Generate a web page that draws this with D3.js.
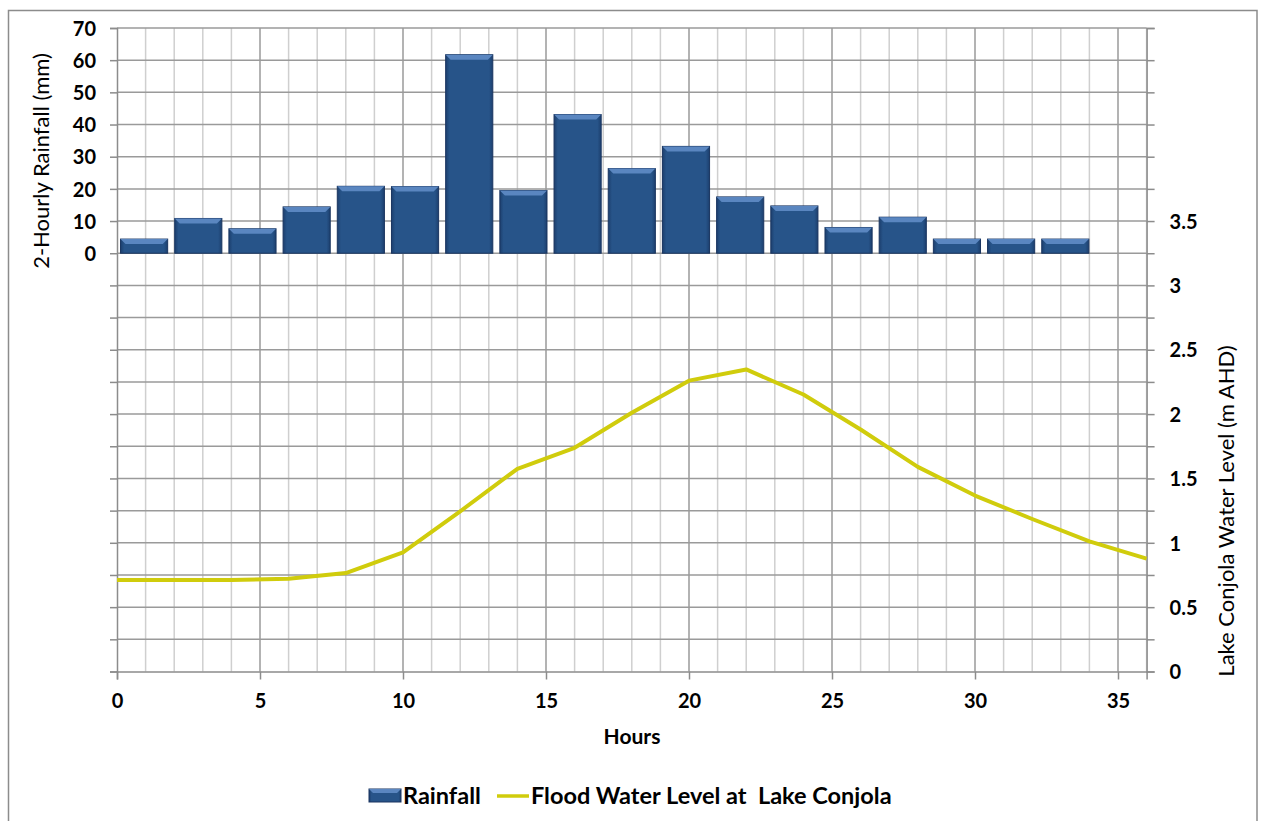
<!DOCTYPE html>
<html lang="en">
<head>
  <meta charset="utf-8">
  <title>Rainfall and Flood Water Level</title>
  <script src="https://cdn.jsdelivr.net/npm/d3@7"></script>
  <style>
    body { margin: 0; background: #fff; }
    svg text { font-family: Lato, "Open Sans", "Liberation Sans", sans-serif; fill: #000; }
    .tick-label { font-size: 20px; font-weight: bold; }
  </style>
</head>
<body>
  <script>
    // 2-hourly rainfall periods (19 slots across 0-36 h, last slot empty)
    const periods = ["0-2", "2-4", "4-6", "6-8", "8-10", "10-12", "12-14", "14-16", "16-18",
      "18-20", "20-22", "22-24", "24-26", "26-28", "28-30", "30-32", "32-34", "34-36", "36-38"];
    const rainfall = [4.4, 10.8, 7.6, 14.4, 20.8, 20.7, 61.7, 19.5, 43.1, 26.3, 33.2,
      17.5, 14.7, 8.0, 11.2, 4.4, 4.4, 4.4];

    const hours = [0, 2, 4, 6, 8, 10, 12, 14, 16, 18, 20, 22, 24, 26, 28, 30, 32, 34, 36];
    const waterLevel = [0.71, 0.71, 0.71, 0.72, 0.765, 0.925, 1.245, 1.575, 1.738, 2.01, 2.26,
      2.347, 2.152, 1.88, 1.59, 1.367, 1.185, 1.011, 0.877];

    const rainTicks = [0, 10, 20, 30, 40, 50, 60, 70];
    const levelTicks = [0, 0.5, 1, 1.5, 2, 2.5, 3, 3.5];
    const hourTicks = [0, 5, 10, 15, 20, 25, 30, 35];

    const w = 1264, h = 821;
    const plot = {left: 117, right: 1146.6, top: 28, bottom: 671.5};

    const svg = d3.select("body").append("svg")
      .attr("width", w)
      .attr("height", h);

    // chart frame
    svg.append("rect")
      .attr("x", 8.5).attr("y", 10.5)
      .attr("width", 1248.5).attr("height", 830)
      .attr("fill", "none")
      .attr("stroke", "#8c8c8c")
      .attr("stroke-width", 1.5);

    const x = d3.scaleLinear().domain([0, 36]).range([plot.left, plot.right]);
    const xBand = d3.scaleBand().domain(periods).range([plot.left, plot.right]).paddingInner(0.13).paddingOuter(0.065);
    const yRain = d3.scaleLinear().domain([-130, 70]).range([plot.bottom, plot.top]);
    const yLevel = d3.scaleLinear().domain([0, 5]).range([plot.bottom, plot.top]);

    // vertical gridlines, every hour (darker every 5)
    const grid = svg.append("g");
    grid.selectAll(".vgrid")
      .data(d3.range(1, 37))
      .enter()
      .append("line")
      .attr("x1", d => x(d)).attr("x2", d => x(d))
      .attr("y1", plot.top).attr("y2", plot.bottom)
      .attr("stroke", d => d % 5 === 0 ? "#9a9a9a" : "#cfcfcf")
      .attr("stroke-width", 1.5);

    // horizontal gridlines at every 0.25 m of the level axis
    grid.selectAll(".hgrid")
      .data(d3.range(1, 21).map(d => d * 0.25))
      .enter()
      .append("line")
      .attr("x1", plot.left).attr("x2", plot.right)
      .attr("y1", d => yLevel(d)).attr("y2", d => yLevel(d))
      .attr("stroke", "#9a9a9a")
      .attr("stroke-width", 1.5);

    // left axis: ticks on every gridline, labels 0..70
    const yAxisL = d3.axisLeft(yRain)
      .tickValues(d3.range(-130, 71, 10))
      .tickSize(7)
      .tickFormat(d => rainTicks.includes(d) ? d : "");
    const gL = svg.append("g")
      .attr("transform", "translate(" + plot.left + ",0)")
      .call(yAxisL);
    gL.selectAll("text").attr("class", "tick-label").attr("x", -21).attr("dy", "0.36em");

    // right axis: ticks on every gridline, labels 0..3.5
    const yAxisR = d3.axisRight(yLevel)
      .tickValues(d3.range(0, 21).map(d => d * 0.25))
      .tickSize(8)
      .tickFormat(d => levelTicks.includes(d) ? d : "");
    const gR = svg.append("g")
      .attr("transform", "translate(" + plot.right + ",0)")
      .call(yAxisR);
    gR.selectAll("text").attr("class", "tick-label").attr("x", 23).attr("dy", "0.36em");

    // bottom axis
    const xAxis = d3.axisBottom(x).tickValues(hourTicks).tickSize(8);
    const gB = svg.append("g")
      .attr("transform", "translate(0," + plot.bottom + ")")
      .call(xAxis);
    gB.selectAll("text").attr("class", "tick-label").attr("y", 22);

    [gL, gR, gB].forEach(g => {
      g.select(".domain").attr("stroke", "#8c8c8c").attr("stroke-width", 1.5);
      g.selectAll(".tick line").attr("stroke", "#8c8c8c").attr("stroke-width", 1.5);
    });

    // bevel gradient for the bars
    const defs = svg.append("defs");
    const grad = defs.append("linearGradient").attr("id", "barGrad")
      .attr("x1", "0").attr("x2", "1").attr("y1", "0").attr("y2", "0");
    grad.append("stop").attr("offset", "0%").attr("stop-color", "#1c3f6e");
    grad.append("stop").attr("offset", "8%").attr("stop-color", "#275489");
    grad.append("stop").attr("offset", "92%").attr("stop-color", "#275489");
    grad.append("stop").attr("offset", "100%").attr("stop-color", "#1c3f6e");

    const bars = svg.append("g");
    bars.selectAll(".bar")
      .data(rainfall)
      .enter()
      .append("rect")
      .attr("x", (d, i) => xBand(periods[i]))
      .attr("y", d => yRain(d))
      .attr("width", xBand.bandwidth())
      .attr("height", d => yRain(0) - yRain(d))
      .attr("fill", "url(#barGrad)")
      .attr("stroke", "#1a3560")
      .attr("stroke-width", 1);

    bars.selectAll(".bevel")
      .data(rainfall)
      .enter()
      .append("path")
      .attr("d", (d, i) => {
        const x0 = xBand(periods[i]), x1 = x0 + xBand.bandwidth(), y0 = yRain(d);
        return "M" + x0 + "," + y0 + "L" + x1 + "," + y0 + "L" + (x1 - 5) + "," + (y0 + 5) +
          "L" + (x0 + 5) + "," + (y0 + 5) + "Z";
      })
      .attr("fill", "#5a86c0");

    // water level line
    const line = d3.line()
      .x((d, i) => x(hours[i]))
      .y(d => yLevel(d));

    svg.append("path")
      .datum(waterLevel)
      .attr("d", line)
      .attr("fill", "none")
      .attr("stroke", "#d0cc0c")
      .attr("stroke-width", 4)
      .attr("stroke-linejoin", "round");

    // axis titles
    svg.append("text")
      .attr("transform", "translate(49,161) rotate(-90)")
      .attr("text-anchor", "middle")
      .style("font-size", "22px")
      .text("2-Hourly Rainfall (mm)");

    svg.append("text")
      .attr("transform", "translate(1234,511) rotate(-90)")
      .attr("text-anchor", "middle")
      .style("font-size", "22px")
      .text("Lake Conjola Water Level (m AHD)");

    svg.append("text")
      .attr("x", 632).attr("y", 744)
      .attr("text-anchor", "middle")
      .style("font-size", "21px")
      .style("font-weight", "bold")
      .text("Hours");

    // legend
    const legend = svg.append("g");
    legend.append("rect")
      .attr("x", 369).attr("y", 789)
      .attr("width", 32).attr("height", 13)
      .attr("fill", "url(#barGrad)")
      .attr("stroke", "#1a3560");
    legend.append("path")
      .attr("d", "M369,789L401,789L397,793L373,793Z")
      .attr("fill", "#5a86c0");
    legend.append("text")
      .attr("x", 403).attr("y", 804)
      .style("font-size", "23.5px")
      .style("font-weight", "bold")
      .text("Rainfall");

    legend.append("line")
      .attr("x1", 497).attr("x2", 529)
      .attr("y1", 796).attr("y2", 796)
      .attr("stroke", "#d0cc0c")
      .attr("stroke-width", 3.5);
    legend.append("text")
      .attr("x", 531).attr("y", 804)
      .style("font-size", "23.5px")
      .style("font-weight", "bold")
      .style("white-space", "pre")
      .text("Flood Water Level at  Lake Conjola");
  </script>
</body>
</html>
